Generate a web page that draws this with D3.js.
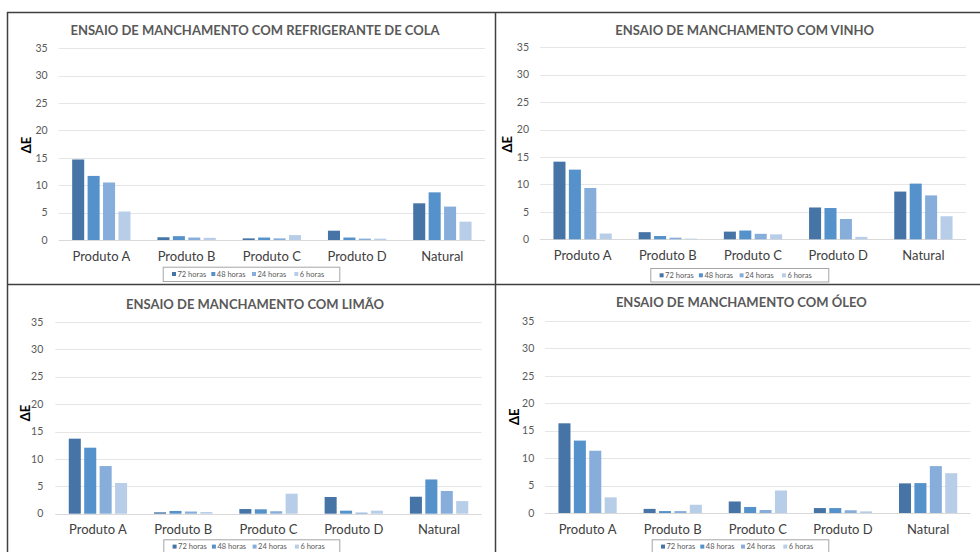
<!DOCTYPE html>
<html>
<head>
<meta charset="utf-8">
<script src="https://cdn.jsdelivr.net/npm/d3@7"></script>
<style>
  html, body { margin: 0; padding: 0; background: #ffffff; }
  svg { display: block; font-family: Lato, "Open Sans", sans-serif; }
</style>
</head>
<body>
<svg id="chart" width="980" height="552"></svg>
<script>
// Categories, series and tick values shared by the four stain tests
const categories = ["Produto A", "Produto B", "Produto C", "Produto D", "Natural"];
const seriesLabels = ["72 horas", "48 horas", "24 horas", "6 horas"];
const seriesColors = ["#4674a6", "#5591ca", "#87aedb", "#b7cde8"];
const yTickValues = [0, 5, 10, 15, 20, 25, 30, 35];

const panelTitles = [
  "ENSAIO DE MANCHAMENTO COM REFRIGERANTE DE COLA",
  "ENSAIO DE MANCHAMENTO COM VINHO",
  "ENSAIO DE MANCHAMENTO COM LIMÃO",
  "ENSAIO DE MANCHAMENTO COM ÓLEO"
];

// ΔE per product; one row per exposure time (72 h, 48 h, 24 h, 6 h)
const colaValues = [
  [14.7, 0.5, 0.3, 1.7, 6.7],
  [11.7, 0.7, 0.45, 0.45, 8.7],
  [10.5, 0.45, 0.3, 0.25, 6.1],
  [5.2, 0.4, 0.9, 0.25, 3.35]
];
const vinhoValues = [
  [14.15, 1.3, 1.4, 5.8, 8.7],
  [12.7, 0.6, 1.6, 5.7, 10.15],
  [9.35, 0.3, 1.0, 3.7, 8.0],
  [1.05, 0.12, 0.9, 0.45, 4.2]
];
const limaoValues = [
  [13.7, 0.25, 0.85, 3.05, 3.1],
  [12.05, 0.5, 0.8, 0.55, 6.25],
  [8.7, 0.4, 0.45, 0.2, 4.15],
  [5.6, 0.3, 3.65, 0.55, 2.3]
];
const oleoValues = [
  [16.35, 0.75, 2.1, 0.9, 5.4],
  [13.2, 0.35, 1.1, 0.9, 5.45],
  [11.35, 0.35, 0.55, 0.5, 8.55],
  [2.85, 1.5, 4.1, 0.3, 7.25]
];
const panelValues = [colaValues, vinhoValues, limaoValues, oleoValues];

// Placement of each panel on the page
const panelLayout = [
  { left: 58.7, right: 485, top: 48.3, base: 240, titleX: 255, titleY: 30.7, tickX: 47.7,
    axisX: 26.7, axisY: 145, catY: 256, legX: 162.7, legW: 176.6, legY: 266.7, legH: 14.3 },
  { left: 540, right: 966, top: 47.3, base: 239.3, titleX: 744.7, titleY: 30, tickX: 529,
    axisX: 507.7, axisY: 144.3, catY: 255.3, legX: 650.3, legW: 178, legY: 268, legH: 13.5 },
  { left: 55.3, right: 481.7, top: 322, base: 513.7, titleX: 255, titleY: 304.3, tickX: 43.3,
    axisX: 25, axisY: 413, catY: 529.7, legX: 163.3, legW: 176, legY: 539.3, legH: 14.5 },
  { left: 545, right: 970.7, top: 321, base: 513, titleX: 741.3, titleY: 302.3, tickX: 534.3,
    axisX: 514, axisY: 416.7, catY: 529, legX: 651.7, legW: 176.6, legY: 539.3, legH: 14.5 }
];

const svg = d3.select("#chart");

function drawPanel(values, title, L) {
  const g = svg.append("g");

  const y = d3.scaleLinear().domain([0, 35]).range([L.base, L.top]);
  const x0 = d3.scaleBand().domain(categories).range([L.left, L.right])
    .paddingInner(0.316).paddingOuter(0.158);
  const x1 = d3.scaleBand().domain(seriesLabels).range([0, x0.bandwidth()]).paddingInner(0.22);

  // horizontal gridlines
  g.append("g").selectAll("line").data(yTickValues).join("line")
    .attr("x1", L.left).attr("x2", L.right)
    .attr("y1", d => Math.round(y(d)) + 0.5).attr("y2", d => Math.round(y(d)) + 0.5)
    .attr("stroke", d => d === 0 ? "#d9d9d9" : "#e6e6e6").attr("stroke-width", 1);

  // y tick labels
  g.append("g").selectAll("text").data(yTickValues).join("text")
    .attr("x", L.tickX).attr("y", d => y(d)).attr("dy", "0.35em")
    .attr("text-anchor", "end").attr("fill", "#595959").attr("font-size", 10.5)
    .text(d => d);

  // bars
  const rows = [];
  values.forEach((row, si) => row.forEach((v, ci) => rows.push({ s: seriesLabels[si], si, c: categories[ci], v })));
  g.append("g").selectAll("rect").data(rows).join("rect")
    .attr("x", d => x0(d.c) + x1(d.s))
    .attr("width", x1.bandwidth())
    .attr("y", d => y(d.v))
    .attr("height", d => y(0) - y(d.v))
    .attr("fill", d => seriesColors[d.si]);

  // category labels
  g.append("g").selectAll("text").data(categories).join("text")
    .attr("x", d => x0(d) + x0.bandwidth() / 2).attr("y", L.catY).attr("dy", "0.35em")
    .attr("text-anchor", "middle").attr("fill", "#404040").attr("font-size", 13)
    .text(d => d);

  // title
  g.append("text").attr("x", L.titleX).attr("y", L.titleY).attr("dy", "0.35em")
    .attr("text-anchor", "middle").attr("fill", "#595959").attr("font-size", 13)
    .attr("font-weight", "bold").text(title);

  // axis title
  g.append("text").attr("transform", `translate(${L.axisX},${L.axisY}) rotate(-90)`)
    .attr("dy", "0.35em").attr("text-anchor", "middle").attr("fill", "#000000")
    .attr("font-size", 13).attr("font-weight", "bold").text("ΔE");

  // legend
  const leg = g.append("g").attr("transform", `translate(${L.legX},${L.legY})`);
  leg.append("rect").attr("x", 0.5).attr("y", 0.5).attr("width", L.legW).attr("height", L.legH)
    .attr("fill", "#ffffff").attr("stroke", "#a6a6a6").attr("stroke-width", 1);
  const legOffsets = [9.3, 48.6, 89.3, 131.6];
  const item = leg.selectAll("g").data(seriesLabels).join("g")
    .attr("transform", (d, i) => `translate(${legOffsets[i]},${7.3})`);
  item.append("rect").attr("x", 0).attr("y", -2).attr("width", 4).attr("height", 4)
    .attr("fill", (d, i) => seriesColors[i]);
  item.append("text").attr("x", 5.5).attr("y", 0).attr("dy", "0.35em")
    .attr("fill", "#595959").attr("font-size", 7.5).text(d => d);
}

panelValues.forEach((vals, i) => drawPanel(vals, panelTitles[i], panelLayout[i]));

// frames separating the four panels
const frame = svg.append("g").attr("stroke", "#404040").attr("stroke-width", 1.5);
frame.append("line").attr("x1", 7).attr("x2", 980).attr("y1", 12.5).attr("y2", 12.5);
frame.append("line").attr("x1", 7).attr("x2", 980).attr("y1", 284.5).attr("y2", 284.5);
frame.append("line").attr("x1", 7.5).attr("x2", 7.5).attr("y1", 12).attr("y2", 552);
frame.append("line").attr("x1", 495.5).attr("x2", 495.5).attr("y1", 12).attr("y2", 552);
</script>
</body>
</html>
